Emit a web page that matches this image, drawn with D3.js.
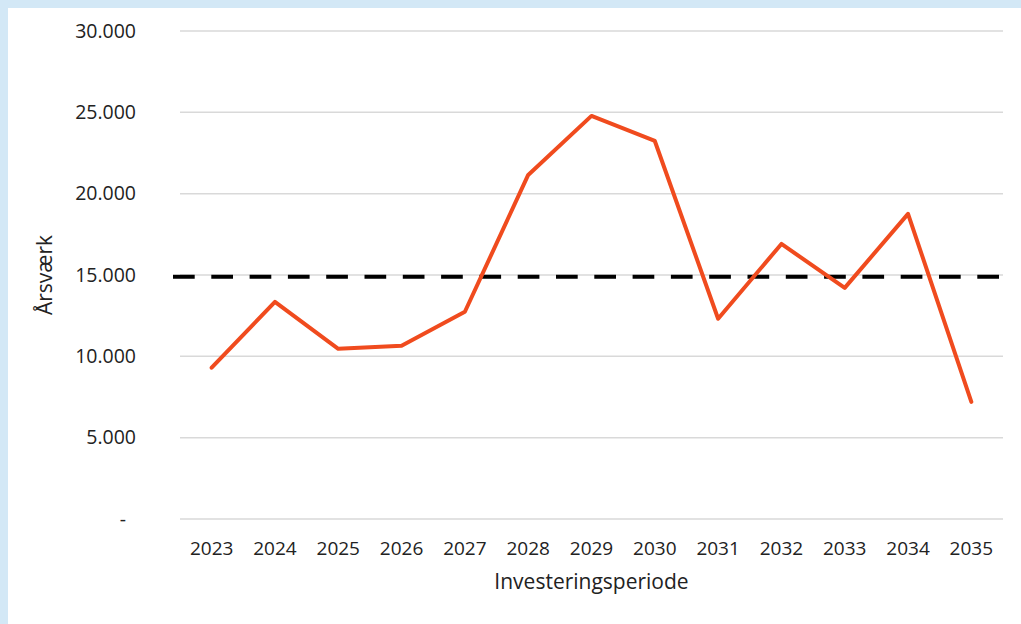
<!DOCTYPE html>
<html>
<head>
<meta charset="utf-8">
<script src="https://cdn.jsdelivr.net/npm/d3@7"></script>
<style>
  html, body { margin: 0; padding: 0; background: #d3e8f6; }
  svg { display: block; }
  text { font-family: "Open Sans", "Noto Sans", sans-serif; fill: #222222; }
</style>
</head>
<body>
<svg id="chart"></svg>
<script>
const years = ["2023", "2024", "2025", "2026", "2027", "2028", "2029", "2030", "2031", "2032", "2033", "2034", "2035"];
const aarsvaerk = [9300, 13350, 10460, 10650, 12740, 21150, 24780, 23240, 12310, 16910, 14210, 18760, 7200];
const yTicks = [0, 5000, 10000, 15000, 20000, 25000, 30000];
const referenceLevel = 14900;

const width = 1021, height = 624;
const margin = { top: 31, right: 18, bottom: 105, left: 180 };

const svg = d3.select("#chart")
  .attr("width", width)
  .attr("height", height);

// white panel on the light blue frame
svg.append("rect")
  .attr("x", 8).attr("y", 8)
  .attr("width", width - 8).attr("height", height - 8)
  .attr("fill", "#ffffff");

const x = d3.scaleBand()
  .domain(years)
  .range([margin.left, width - margin.right])
  .padding(0);

const y = d3.scaleLinear()
  .domain([0, 30000])
  .range([height - margin.bottom, margin.top]);

const fmt = v => v === 0 ? "-" : d3.format(",")(v).replace(/,/g, ".");

// gridlines
svg.append("g")
  .selectAll("line")
  .data(yTicks)
  .join("line")
  .attr("x1", margin.left)
  .attr("x2", width - margin.right)
  .attr("y1", d => y(d))
  .attr("y2", d => y(d))
  .attr("stroke", "#d9d9d9")
  .attr("stroke-width", 1.5);

// y tick labels
svg.append("g")
  .selectAll("text")
  .data(yTicks)
  .join("text")
  .attr("x", d => d === 0 ? 126 : 136)
  .attr("y", d => y(d))
  .attr("dy", "0.35em")
  .attr("text-anchor", "end")
  .style("font-size", "19.5px")
  .text(fmt);

// x tick labels
svg.append("g")
  .selectAll("text")
  .data(years)
  .join("text")
  .attr("x", d => x(d) + x.bandwidth() / 2)
  .attr("y", 548)
  .attr("dy", "0.35em")
  .attr("text-anchor", "middle")
  .style("font-size", "19px")
  .text(d => d);

// axis titles
svg.append("text")
  .attr("transform", `translate(45,${(y(0) + y(30000)) / 2}) rotate(-90)`)
  .attr("dy", "0.35em")
  .attr("text-anchor", "middle")
  .style("font-size", "21px")
  .text("Årsværk");

svg.append("text")
  .attr("x", (margin.left + width - margin.right) / 2)
  .attr("y", 582)
  .attr("dy", "0.35em")
  .attr("text-anchor", "middle")
  .style("font-size", "21px")
  .text("Investeringsperiode");

// dashed reference line
svg.append("line")
  .attr("x1", margin.left - 7)
  .attr("x2", width - margin.right + 7)
  .attr("y1", y(referenceLevel))
  .attr("y2", y(referenceLevel))
  .attr("stroke", "#000000")
  .attr("stroke-width", 4)
  .attr("stroke-dasharray", "21.7 16.6");

// main series
const line = d3.line()
  .x((d, i) => x(years[i]) + x.bandwidth() / 2)
  .y(d => y(d));

svg.append("path")
  .datum(aarsvaerk)
  .attr("d", line)
  .attr("fill", "none")
  .attr("stroke", "#f04b1e")
  .attr("stroke-width", 4)
  .attr("stroke-linejoin", "round")
  .attr("stroke-linecap", "round");
</script>
</body>
</html>
